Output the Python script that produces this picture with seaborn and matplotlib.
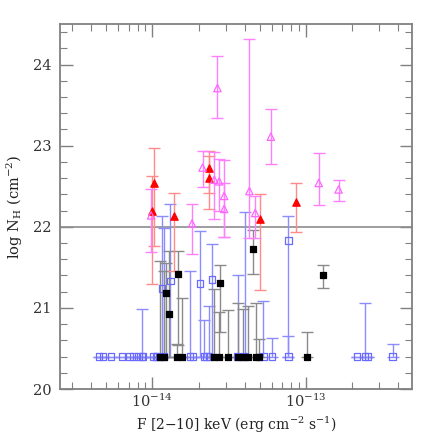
import numpy as np
import pandas as pd
import matplotlib
matplotlib.use("Agg")
import matplotlib.pyplot as plt
import seaborn as sns
from matplotlib.ticker import FixedLocator, MultipleLocator, NullFormatter, LogFormatterSciNotation

# ---- data (flux in units of 1e-14 erg cm^-2 s^-1, log NH) ----
# magenta open triangles
mag_x = [0.98, 1.81, 2.12, 2.53, 2.65, 2.72, 2.93, 2.93, 4.28, 4.67, 5.9, 12.1, 16.3]
mag_y = [22.14, 22.04, 22.73, 22.58, 23.71, 22.56, 22.38, 22.22, 22.44, 22.17, 23.11, 22.54, 22.46]
mag_hi = [22.46, 22.28, 22.94, 22.92, 24.10, 22.84, 22.82, 22.54, 24.32, 22.38, 23.45, 22.91, 22.58]
mag_lo = [21.69, 21.66, 22.49, 22.10, 23.34, 22.19, 21.87, 21.87, 21.86, 21.86, 22.78, 22.27, 22.32]

# red filled triangles
red_x = [1.02, 1.00, 1.39, 2.35, 2.35, 5.02, 8.57]
red_y = [22.54, 22.19, 22.13, 22.72, 22.60, 22.10, 22.31]
red_hi = [22.97, 22.63, 22.42, 22.93, 22.87, 22.40, 22.54]
red_lo = [21.76, 21.30, 21.46, 22.42, 22.22, 21.22, 21.93]

# black filled squares (detections)
blk_x = [1.233, 1.289, 1.468, 2.734, 4.55, 12.83]
blk_y = [21.18, 20.93, 21.42, 21.31, 21.72, 21.40]
blk_hi = [21.55, 21.70, 21.70, 21.53, 21.96, 21.53]
blk_lo = [20.40, 20.40, 20.54, 20.70, 21.42, 21.24]

# black filled squares at the lower bound (upper limits)
blkul_x = [1.127, 1.188, 1.446, 1.559, 2.527, 2.696, 3.09, 3.58, 3.88, 4.22, 4.73, 4.95, 10.19]
blkul_hi = [21.58, 21.45, 20.55, 21.12, 21.23, 20.95, 20.98, 21.06, 20.99, 21.02, 21.06, 20.62, 20.70]

# blue open squares (detections)
blu_x = [1.156, 1.309, 2.028, 2.434, 7.68]
blu_y = [21.24, 21.33, 21.30, 21.35, 21.83]
blu_hi = [22.13, 22.28, 21.95, 21.79, 22.13]
blu_lo = [20.40, 20.40, 20.40, 20.40, 20.40]

# blue open squares at the lower bound (upper limits)
bluul_x = [0.448, 0.477, 0.534, 0.636, 0.709, 0.753, 0.811, 0.857, 0.868, 1.01, 1.05, 1.08,
           1.19, 1.765, 1.847, 2.176, 2.321, 2.25, 3.58, 4.02, 5.28, 5.99, 7.68, 21.5, 24.2, 25.4, 36.6]
bluul_hi = [20.40, 20.40, 20.40, 20.40, 20.40, 20.40, 20.40, 20.99, 20.40, 20.40, 20.40, 20.40,
            21.99, 21.45, 20.40, 20.85, 21.02, 20.40, 21.41, 22.18, 21.08, 20.63, 20.65, 20.40, 21.06, 20.40, 20.56]

# axis ticks
x_major = [1e-14, 1e-13]
x_minor = [3e-15, 4e-15, 5e-15, 6e-15, 7e-15, 8e-15, 9e-15,
           2e-14, 3e-14, 4e-14, 5e-14, 6e-14, 7e-14, 8e-14, 9e-14,
           2e-13, 3e-13, 4e-13]

NH_MIN = 20.40
XSCALE = 1e-14


def frame(x, y, hi, lo, group):
    x = np.asarray(x) * XSCALE
    y = np.asarray(y, dtype=float)
    return pd.DataFrame({"flux": x, "nh": y,
                         "err_hi": np.asarray(hi) - y,
                         "err_lo": y - np.asarray(lo),
                         "group": group})


df = pd.concat([
    frame(bluul_x, [NH_MIN] * len(bluul_x), bluul_hi, [NH_MIN] * len(bluul_x), "blue"),
    frame(blu_x, blu_y, blu_hi, blu_lo, "blue"),
    frame(blkul_x, [NH_MIN] * len(blkul_x), blkul_hi, [NH_MIN] * len(blkul_x), "black"),
    frame(blk_x, blk_y, blk_hi, blk_lo, "black"),
    frame(red_x, red_y, red_hi, red_lo, "red"),
    frame(mag_x, mag_y, mag_hi, mag_lo, "magenta"),
], ignore_index=True)

sns.set_style("ticks")
plt.rcParams["font.family"] = ["DejaVu Serif"]
plt.rcParams["mathtext.fontset"] = "dejavuserif"

fig = plt.figure(figsize=(4.36, 4.36), dpi=100)
ax = fig.add_axes([60 / 436, 47 / 436, 352 / 436, 365 / 436])

styles = {
    "blue": dict(ecolor="#8c8cff", marker="s", face="none", edge="#6a6aff", size=20, lw=1.0),
    "black": dict(ecolor="#8a8a8a", marker="s", face="black", edge="black", size=20, lw=1.0),
    "red": dict(ecolor="#ff8a8a", marker="^", face="red", edge="red", size=28, lw=1.0),
    "magenta": dict(ecolor="#ff80ff", marker="^", face="none", edge="#ff66ff", size=28, lw=1.0),
}

for g in ["blue", "black", "red", "magenta"]:
    d = df[df.group == g]
    st = styles[g]
    ax.errorbar(d.flux, d.nh, yerr=[d.err_lo, d.err_hi], fmt="none",
                ecolor=st["ecolor"], elinewidth=st["lw"], capsize=4, capthick=1.0, zorder=2)

for g in ["blue", "black", "red", "magenta"]:
    d = df[df.group == g]
    st = styles[g]
    sns.scatterplot(data=d, x="flux", y="nh", ax=ax, marker=st["marker"], s=st["size"],
                    facecolor=st["face"], edgecolor=st["edge"], linewidth=0.9, zorder=3,
                    legend=False)

ax.axhline(22.0, color="#8c8c8c", lw=1.2, zorder=1)

ax.set_xscale("log")
ax.set_xlim(2.5e-15, 4.9e-13)
ax.set_ylim(20, 24.5)
ax.xaxis.set_major_locator(FixedLocator(x_major))
ax.xaxis.set_major_formatter(LogFormatterSciNotation())
ax.xaxis.set_minor_locator(FixedLocator(x_minor))
ax.xaxis.set_minor_formatter(NullFormatter())
ax.yaxis.set_major_locator(MultipleLocator(1))
ax.yaxis.set_minor_locator(MultipleLocator(0.2))

ax.tick_params(which="both", direction="in", top=True, right=True, color="#808080",
               labelcolor="#333333", labelsize=10.5)
ax.tick_params(which="major", length=9, width=1.0)
ax.tick_params(axis="x", which="major", pad=3)
ax.tick_params(axis="y", which="major", pad=6)
ax.tick_params(which="minor", length=5, width=0.8)
for s in ax.spines.values():
    s.set_color("#808080")
    s.set_linewidth(1.3)

ax.set_xlabel(r"F [2$-$10] keV (erg cm$^{-2}$ s$^{-1}$)", fontsize=10, color="#222222", labelpad=3)
ax.set_ylabel(r"log N$_{\rm H}$ (cm$^{-2}$)", fontsize=10.5, color="#222222", labelpad=6)

fig.savefig("out.png", dpi=100)
